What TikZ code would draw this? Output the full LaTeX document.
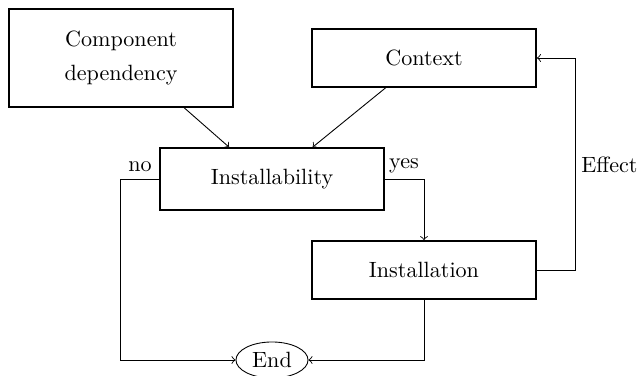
\documentclass[tikz,border=0pt]{standalone}
\usetikzlibrary{calc,shapes.geometric}
\begin{document}
\begin{tikzpicture}[x=0.4525pt,y=-0.4525pt,
  box/.style={draw,line width=0.8pt,rectangle,minimum width=101.4pt,inner sep=0pt,align=center,font=\fontsize{10pt}{15.8pt}\selectfont},
  conn/.style={line width=0.4pt,->},
  lbl/.style={inner sep=0pt,font=\fontsize{10pt}{12pt}\selectfont}]
\useasboundingbox (0,0) rectangle (638,376);
\node[box,minimum height=44.3pt] (comp) at (121,58) {Component\\dependency};
\node[box,minimum height=26.2pt] (ctx) at (424,58) {Context};
\node[box,minimum height=28pt] (inst) at (272,179) {Installability};
\node[box,minimum height=26.2pt] (instl) at (424,270) {Installation};
\node[draw,line width=0.4pt,ellipse,minimum width=32.6pt,minimum height=16.3pt,inner sep=0pt] (end) at (272,360) {End};
\draw[conn] ($(comp.south west)!0.78!(comp.south east)$) -- ($(inst.north west)!0.31!(inst.north east)$);
\draw[conn] ($(ctx.south west)!0.33!(ctx.south east)$) -- ($(inst.north west)!0.68!(inst.north east)$);
\draw[conn] (inst.west) -- ++(-39,0) coordinate (nocorner) |- (end.west);
\draw[conn] (inst.east) -| (instl.north);
\draw[conn] (instl.south) |- (end.east);
\draw[conn] (instl.east) -- ++(39,0) coordinate (effcorner) |- (ctx.east);
\node[lbl] (nolbl) at (140,167) {no};
\node[lbl] (yeslbl) at (404,166) {yes};
\node[lbl] (efflbl) at (609.5,165) {Effect};
\end{tikzpicture}
\end{document}
